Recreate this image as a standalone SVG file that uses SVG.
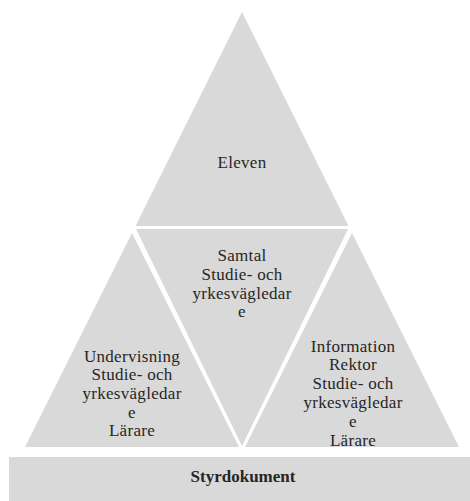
<svg xmlns="http://www.w3.org/2000/svg" width="470" height="501" viewBox="0 0 470 501">
  <style>
    .shape { fill: #d9d9d9; stroke: none; }
    .lbl { font-family: "Liberation Serif", "Times New Roman", serif; font-size: 17px; fill: #262626; text-anchor: middle; letter-spacing: 0.3px; }
    .bold { font-weight: bold; letter-spacing: 0; }
  </style>
  <rect width="470" height="501" fill="#ffffff"/>
  <g id="node-eleven">
    <polygon class="shape" points="242,12 135.5,226 348.5,226"/>
    <text class="lbl" x="242" y="168">Eleven</text>
  </g>
  <g id="node-samtal">
    <polygon class="shape" points="136,229 348,229 242,446"/>
    <text class="lbl" x="242" y="261">Samtal</text>
    <text class="lbl" x="242" y="280">Studie- och</text>
    <text class="lbl" x="242" y="298.5">yrkesvägledar</text>
    <text class="lbl" x="242" y="317">e</text>
  </g>
  <g id="node-undervisning">
    <polygon class="shape" points="132,233 25,447 239,447"/>
    <text class="lbl" x="132" y="361.5">Undervisning</text>
    <text class="lbl" x="132" y="380">Studie- och</text>
    <text class="lbl" x="132" y="399">yrkesvägledar</text>
    <text class="lbl" x="132" y="417.5">e</text>
    <text class="lbl" x="132" y="436">Lärare</text>
  </g>
  <g id="node-information">
    <polygon class="shape" points="352,233 245,447 459,447"/>
    <text class="lbl" x="353" y="351.5">Information</text>
    <text class="lbl" x="353" y="370">Rektor</text>
    <text class="lbl" x="353" y="389">Studie- och</text>
    <text class="lbl" x="353" y="407.5">yrkesvägledar</text>
    <text class="lbl" x="353" y="426.5">e</text>
    <text class="lbl" x="353" y="446">Lärare</text>
  </g>
  <g id="node-styrdokument">
    <rect class="shape" x="9" y="457" width="461" height="44"/>
    <text class="lbl bold" x="243" y="482">Styrdokument</text>
  </g>
</svg>
